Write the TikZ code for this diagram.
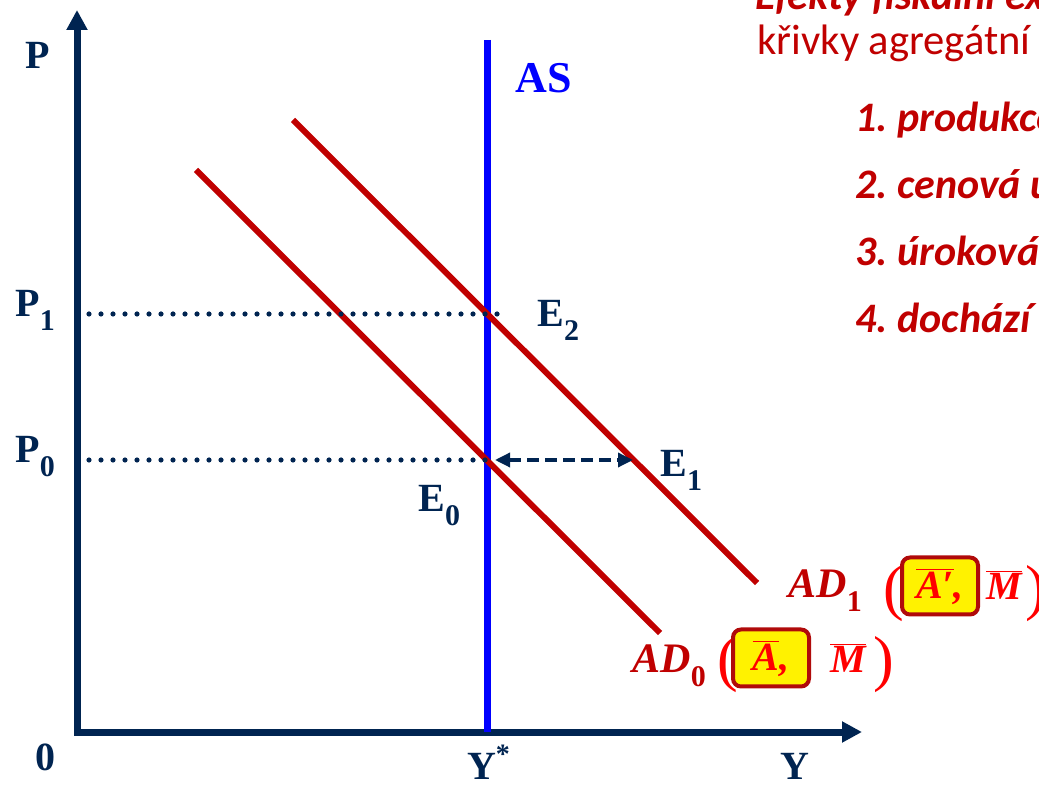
\documentclass[tikz,border=0pt]{standalone}
\usepackage{fontspec}
\setmainfont{Liberation Serif}
\newfontfamily\notefont{Carlito}
\usetikzlibrary{positioning, arrows.meta}

\definecolor{navy}{HTML}{002451}
\definecolor{adred}{HTML}{C00000}
\definecolor{boxred}{HTML}{B00A0A}
\definecolor{brightred}{HTML}{FF0000}
\definecolor{asblue}{HTML}{0000FF}

\newcommand{\lowidx}[1]{\raisebox{-0.33em}{\upshape\fontsize{15}{17}\selectfont #1}}
\newcommand{\barred}[1]{\ensuremath{\overline{\hbox{#1}}}}

\begin{document}
\begin{tikzpicture}[x=0.5pt, y=-0.5pt,
    axis/.style={draw=navy, line width=3.5pt, line join=miter, {Triangle[length=10pt, width=10pt]}-{Triangle[length=10pt, width=10pt]}},
    asline/.style={draw=asblue, line width=3.5pt},
    adline/.style={draw=adred, line width=3pt},
    guide/.style={draw=navy, line width=2.6pt, line cap=round, dash pattern=on 0pt off 6pt},
    shiftarrow/.style={draw=navy, line width=1.7pt, dash pattern=on 6pt off 3pt, {Triangle[length=7.5pt, width=7pt]}-{Triangle[length=7.5pt, width=7pt]}},
    lbl/.style={navy, inner sep=0pt, font=\bfseries\fontsize{20}{24}\selectfont},
    adlbl/.style={adred, inner sep=0pt, anchor=base west, font=\bfseries\itshape\fontsize{21}{25}\selectfont},
    paren/.style={brightred, inner sep=0pt, font=\fontsize{31}{36}\selectfont},
    mbar/.style={brightred, inner sep=0pt, anchor=base west, font=\bfseries\itshape\fontsize{20}{24}\selectfont},
    abox/.style={draw=boxred, fill=yellow, line width=2pt, rounded corners=4pt, minimum width=38pt, minimum height=28.5pt, inner sep=0pt, text=brightred, font=\bfseries\itshape\fontsize{20}{24}\selectfont},
    note/.style={adred, inner sep=0pt, anchor=base west, font=\notefont\fontsize{21.3}{26}\selectfont},
    itemtext/.style={note, font=\notefont\bfseries\itshape\fontsize{21}{25}\selectfont}
]
\clip (0,0) rectangle (1039,785);

% axes
\coordinate (O) at (77,732);
\coordinate (ytip) at (77,10);
\coordinate (xtip) at (862,732);
\draw[axis] (ytip) -- (O) -- (xtip);

% curves
\coordinate (AStop) at (487,40);
\coordinate (ASbot) at (487,732);
\coordinate (AD0a) at (196,170);
\coordinate (AD0b) at (660,633);
\coordinate (AD1a) at (293,120);
\coordinate (AD1b) at (757,583);
\draw[asline] (AStop) -- (ASbot);
\draw[adline] (AD0a) -- (AD0b);
\draw[adline] (AD1a) -- (AD1b);

% equilibria
\coordinate (P1pt) at (77,314);
\coordinate (P0pt) at (77,460);
\coordinate (P1end) at (500,314);
\coordinate (E0pt) at (487,460);
\coordinate (E1pt) at (633,460);
\draw[guide] (P1pt) -- (P1end);
\draw[guide] (P0pt) -- (E0pt);
\draw[shiftarrow, shorten <=4pt] (E0pt) -- (E1pt);

% axis labels
\node[lbl] (Plbl) at (38,55) {P};
\node[lbl] (zero) at (45,757) {0};
\node[lbl, anchor=base] (Ystar) at (489,779) {Y\textsuperscript{*}};
\node[lbl, anchor=base] (Ylbl) at (795,779) {Y};
\node[lbl, anchor=base west] (P1lbl) at (15,317) {P\lowidx{1}};
\node[lbl, anchor=base west] (P0lbl) at (15,463) {P\lowidx{0}};
\node[lbl, anchor=base west] (E2lbl) at (537,327) {E\lowidx{2}};
\node[lbl, anchor=base west] (E1lbl) at (660,477) {E\lowidx{1}};
\node[lbl, anchor=base west] (E0lbl) at (418,512) {E\lowidx{0}};
\node[asblue, inner sep=0pt, anchor=base west, font=\bfseries\fontsize{22}{26}\selectfont] (ASlbl) at (515,93) {AS};

% AD labels
\node[adlbl] (AD1lbl) at (788,598) {AD\lowidx{1}};
\node[paren] (AD1open) at (894,594) {(};
\node[abox] (A1box) at (940,586) {\barred{A′},};
\node[mbar] (M1) at (986,600) {\barred{M}};
\node[paren] (AD1close) at (1036,594) {)};

\node[adlbl] (AD0lbl) at (632,673) {AD\lowidx{0}};
\node[paren] (AD0open) at (728,665) {(};
\node[abox] (A0box) at (771,658) {\barred{A},};
\node[mbar] (M0) at (830,673) {\barred{M}};
\node[paren] (AD0close) at (884,665) {)};

% text
\node[itemtext] (title) at (755,10) {Efekty fiskální expanze};
\node[note] (subtitle) at (757,55) {křivky agregátní poptávky};
\foreach \txt [count=\i] in {produkce, cenová úroveň, úroková míra, dochází}
    \node[itemtext] (item\i) at (855,{132+67*(\i-1)}) {\i.~\txt};
\end{tikzpicture}
\end{document}
